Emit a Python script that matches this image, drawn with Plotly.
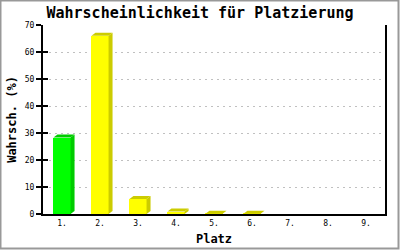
import plotly.graph_objects as go

categories = ["1.", "2.", "3.", "4.", "5.", "6.", "7.", "8.", "9."]
values = [28.3, 66.0, 5.6, 0.9, 0.1, 0.1, 0, 0, 0]
front_colors = ["#00ff00"] + ["#ffff00"] * 8
side_colors = ["#00cc00"] + ["#cccc00"] * 8
yticks = [0, 10, 20, 30, 40, 50, 60, 70]

W, H = 400, 250
ML, MR, MT, MB = 43, 15, 25, 36
pw, ph = W - ML - MR, H - MT - MB
ymax = 70
n = len(categories)
xmin, xmax = -0.5, n - 0.5
ux = (xmax - xmin) / pw  # data units per px
uy = ymax / ph
dx, dy = 4 * ux, 3 * uy
bw = 0.45
mono = "DejaVu Sans Mono"

fig = go.Figure()
xs = list(range(n))
fig.add_trace(go.Bar(x=xs, y=values, width=bw, marker=dict(color=front_colors, line=dict(width=0)),
                     hoverinfo="skip", showlegend=False))
for i, v in enumerate(values):
    if v <= 0:
        continue
    l, r = i - bw / 2, i + bw / 2
    # side
    fig.add_trace(go.Scatter(x=[r, r + dx, r + dx, r, r], y=[0, dy, v + dy, v, 0], mode="lines",
                             fill="toself", fillcolor=side_colors[i], line=dict(width=0),
                             hoverinfo="skip", showlegend=False))
    # top
    fig.add_trace(go.Scatter(x=[l, l + dx, r + dx, r, l], y=[v, v + dy, v + dy, v, v], mode="lines",
                             fill="toself", fillcolor=side_colors[i], line=dict(width=0),
                             hoverinfo="skip", showlegend=False))
# invisible trace for overlay axis
fig.add_trace(go.Scatter(x=[0], y=[0], yaxis="y2", mode="markers", marker=dict(opacity=0),
                         hoverinfo="skip", showlegend=False))

def px_to_paper_x(p):
    return (p - ML) / pw

def px_to_paper_y(p):
    return (H - MB - p) / ph

fig.add_shape(type="rect", xref="paper", yref="paper",
              x0=px_to_paper_x(0.5), x1=px_to_paper_x(398.5),
              y0=px_to_paper_y(248.5), y1=px_to_paper_y(0.5),
              line=dict(color="#999999", width=2), layer="above")

fig.update_layout(
    width=W, height=H, margin=dict(l=ML, r=MR, t=MT, b=MB, autoexpand=False),
    paper_bgcolor="white", plot_bgcolor="white",
    title=dict(text="Wahrscheinlichkeit für Platzierung", x=0.5, xref="container", xanchor="center",
               y=1 - 13 / H, yanchor="middle",
               font=dict(family=mono, size=15, color="black", weight="bold")),
    xaxis=dict(range=[xmin, xmax], tickvals=xs, ticktext=categories, showgrid=False, zeroline=False,
               automargin=False,
               showline=True, linecolor="black", linewidth=2, ticks="",
               tickfont=dict(family=mono, size=8, color="black"),
               title=dict(text="Platz", font=dict(family=mono, size=12, color="black", weight="bold"), standoff=8)),
    yaxis=dict(range=[0, ymax], tickvals=yticks, showgrid=True, gridcolor="#c0c0c0", griddash="2px,4px", gridwidth=1,
               automargin=False,
               zeroline=False, showline=True, mirror=True, linecolor="black", linewidth=2,
               ticks="outside", ticklen=5, tickcolor="black", tickwidth=2,
               tickfont=dict(family=mono, size=8, color="black"),
               title=dict(text="Wahrsch. (%)", font=dict(family=mono, size=12, color="black", weight="bold"), standoff=6)),
    yaxis2=dict(range=[0, ymax], overlaying="y", tickvals=yticks, showticklabels=False, showgrid=False,
                automargin=False,
                zeroline=False, ticks="inside", ticklen=5, tickcolor="black", tickwidth=2, side="left"),
    bargap=0,
)
fig.write_html("out.html")
